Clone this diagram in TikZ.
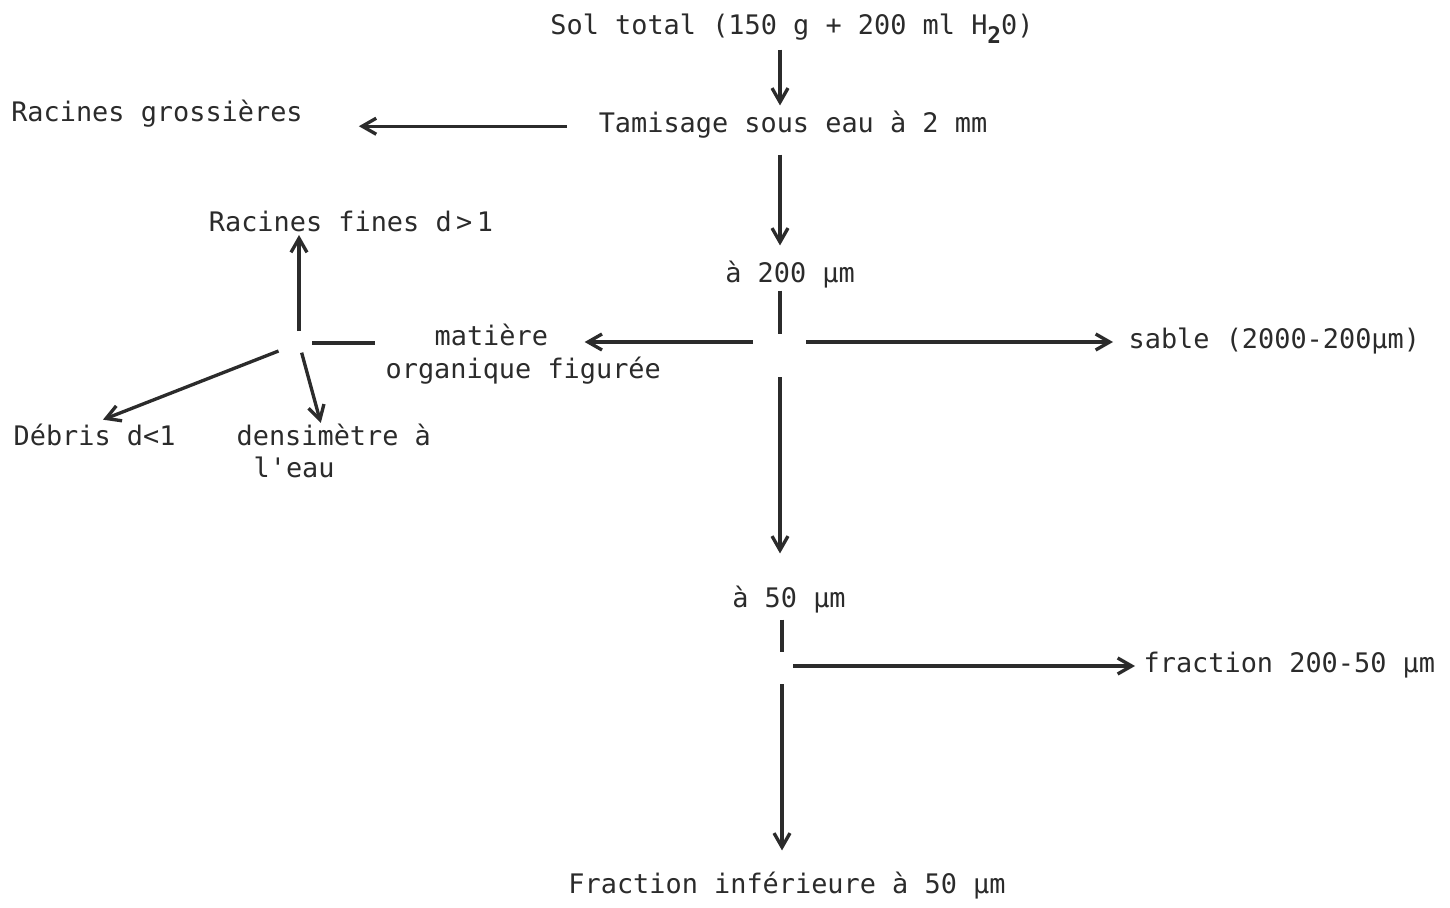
\documentclass[tikz,border=0pt]{standalone}
\usepackage{fontspec}
\setmonofont{DejaVu Sans Mono}
\usetikzlibrary{arrows.meta, positioning}
\definecolor{cink}{HTML}{2B2B2B}
\tikzset{
  every picture/.style={line width=1.9pt},
  lab/.style={text=cink, font=\ttfamily\fontsize{15.3pt}{19pt}\selectfont, inner sep=0pt, text height=11.6pt, text depth=3.9pt},
  arrow/.style={-{Straight Barb[length=2.8mm, width=3.2mm]}, draw=cink},
  link/.style={draw=cink},
}

\begin{document}
\begin{tikzpicture}[x=0.2mm, y=-0.2mm]
  \useasboundingbox (0,0) rectangle (1450,908);
  % main column: sieving
  \node[lab, anchor=base] (sol) at (792,35) {Sol total (150 g + 200 ml H\raisebox{-0.6ex}{\fontsize{13pt}{13pt}\selectfont\bfseries 2}0)};
  \node[lab, anchor=base] (tamis) at (793,133) {Tamisage sous eau à 2 mm};
  \node[lab, anchor=base] (gross) at (157,122) {Racines grossières};
  \node[lab, anchor=base] (a200) at (790,282) {à 200 µm};
  \node[lab, anchor=base west] (sable) at (1127,348) {sable (2000-200µm)};
  \node[lab, anchor=base] (a50) at (789,607) {à 50 µm};
  \node[lab, anchor=base west] (frac) at (1142,672) {fraction 200-50 µm};
  \node[lab, anchor=base] (fin) at (787,893) {Fraction inférieure à 50 µm};
  % organic matter labels
  \node[lab, anchor=base west] (mat) at (433,345) {matière};
  \node[lab, anchor=base west] (org) at (384,378) {organique figurée};
  \node[lab, anchor=base] (fines) at (351,232) {Racines fines d\,>\,1};
  \node[lab, anchor=base west] (debris) at (12,445) {Débris d<1};
  \node[lab, anchor=base west] (dens) at (235,445) {densimètre à};
  \node[lab, anchor=base west] (eau) at (252,477) {l'eau};
  \coordinate (hubA) at (780,342);
  \coordinate (hubB) at (782,666);
  \coordinate (hubC) at (299,343);
  \draw[arrow, shorten <=1.2mm, shorten >=1.1mm] (sol.south -| hubA) -- (tamis.north -| hubA);
  \draw[arrow, shorten <=6mm, shorten >=10.9mm] (tamis.west) -- (gross.east |- tamis.west);
  \draw[arrow, shorten <=2.6mm, shorten >=2.9mm] (tamis.south -| hubA) -- (a200.north -| hubA);
  \draw[link, shorten >=1.6mm] (a200.south -| hubA) -- (hubA);
  \draw[arrow, shorten <=5.2mm, shorten >=2.8mm] (hubA) -- (sable.west |- hubA);
  \draw[arrow, shorten <=5.4mm, shorten >=7mm] (hubA) -- (mat.east |- hubA);
  \draw[arrow, shorten <=7mm, shorten >=6.3mm] (hubA) -- (a50.north -| hubA);
  \draw[link, shorten <=0.8mm, shorten >=2.8mm] (a50.south -| hubB) -- (hubB);
  \draw[arrow, shorten <=2.2mm, shorten >=1.4mm] (hubB) -- (frac.west |- hubB);
  \draw[arrow, shorten <=3.6mm, shorten >=4.1mm] (hubB) -- (fin.north -| hubB);
  % organic matter: densimetric split
  \draw[arrow, shorten <=2.4mm, shorten >=0.6mm] (hubC) -- (fines.base -| hubC);
  \draw[link, shorten <=2.6mm, shorten >=1.8mm] (hubC) -- (org.west |- hubC);
  \draw[arrow, shorten <=4.4mm, shorten >=1.8mm] (hubC) -- (debris.north);
  \draw[arrow, shorten <=2mm] (hubC) -- ([xshift=-2.6mm]dens.north);
\end{tikzpicture}
\end{document}
